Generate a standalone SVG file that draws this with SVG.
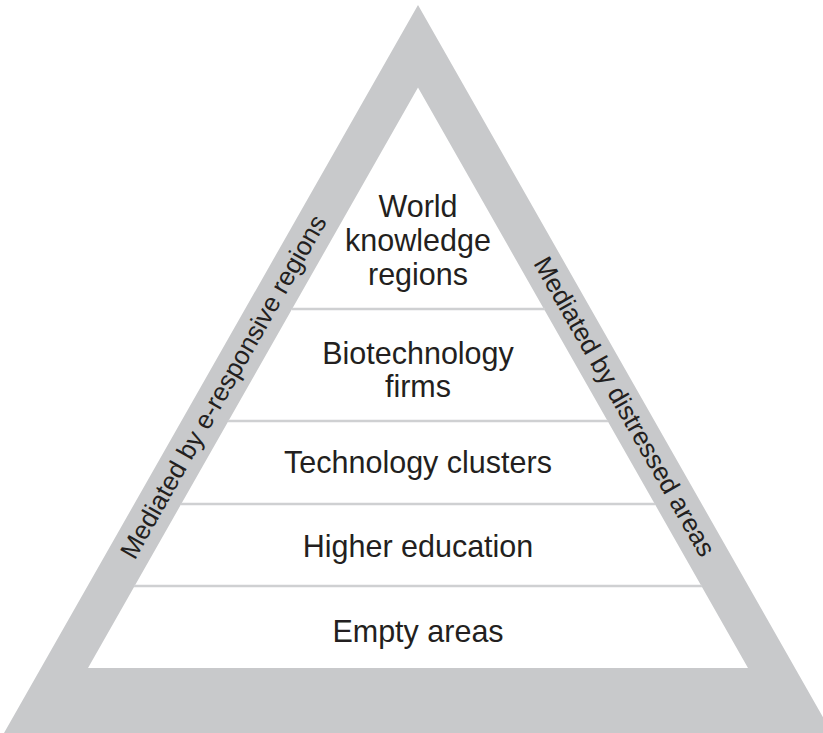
<svg xmlns="http://www.w3.org/2000/svg" width="823" height="733" viewBox="0 0 823 733">
<style>
.lbl{font-family:"Liberation Sans",Arial,sans-serif;font-size:30.5px;fill:#231f20;text-anchor:middle}
.side{font-family:"Liberation Sans",Arial,sans-serif;font-size:26px;fill:#231f20;text-anchor:middle}
.div{stroke:#cfd0d2;stroke-width:2.5;fill:none}
</style>
<rect width="823" height="733" fill="#ffffff"/>
<g id="pyramid">
<path d="M418,5 L832,733 L4,733 Z M418,87.5 L88,668 L748,668 Z" fill="#c8c9cb" fill-rule="evenodd"/>
</g>
<g id="dividers">
<line class="div" x1="292" y1="309" x2="545" y2="309"/>
<line class="div" x1="228" y1="421" x2="608" y2="421"/>
<line class="div" x1="181" y1="504" x2="655" y2="504"/>
<line class="div" x1="134" y1="586" x2="702" y2="586"/>
</g>
<g id="level-world">
<text class="lbl" x="418" y="217">World</text>
<text class="lbl" x="418" y="251">knowledge</text>
<text class="lbl" x="418" y="285">regions</text>
</g>
<g id="level-biotech">
<text class="lbl" x="418" y="364">Biotechnology</text>
<text class="lbl" x="418" y="397">firms</text>
</g>
<g id="level-clusters">
<text class="lbl" x="418" y="473">Technology clusters</text>
</g>
<g id="level-higher">
<text class="lbl" x="418" y="557">Higher education</text>
</g>
<g id="level-empty">
<text class="lbl" x="418" y="642">Empty areas</text>
</g>
<g id="side-left">
<text class="side" x="231" y="391" transform="rotate(-60.4 231 391)">Mediated by e-responsive regions</text>
</g>
<g id="side-right">
<text class="side" x="617" y="411" transform="rotate(60.4 617 411)">Mediated by distressed areas</text>
</g>
</svg>
